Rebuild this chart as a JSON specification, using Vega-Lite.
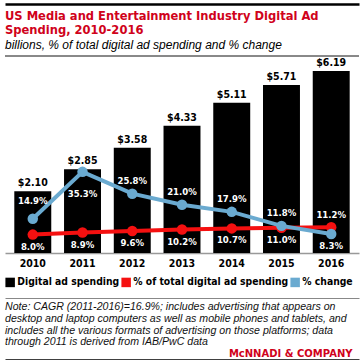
{
  "$schema": "https://vega.github.io/schema/vega-lite/v6.json",
  "padding": {"left": 4, "right": 2, "top": 4, "bottom": 1},
  "background": "white",
  "spacing": 4,
  "config": {
    "view": {"stroke": null},
    "font": "DejaVu Sans Condensed"
  },
  "datasets": {
    "d": [
      {"year": "2010", "spend": 2.10, "share": 0.080, "change": 0.149},
      {"year": "2011", "spend": 2.85, "share": 0.089, "change": 0.353},
      {"year": "2012", "spend": 3.58, "share": 0.096, "change": 0.258},
      {"year": "2013", "spend": 4.33, "share": 0.102, "change": 0.210},
      {"year": "2014", "spend": 5.11, "share": 0.107, "change": 0.179},
      {"year": "2015", "spend": 5.71, "share": 0.110, "change": 0.118},
      {"year": "2016", "spend": 6.19, "share": 0.112, "change": 0.083}
    ]
  },
  "resolve": {"scale": {"x": "independent", "color": "independent"}, "legend": {"color": "independent"}},
  "vconcat": [
    {
      "width": 354,
      "height": 1,
      "data": {"name": "d"},
      "mark": {"type": "rule", "opacity": 0},
      "encoding": {
        "x": {"field": "year", "type": "ordinal", "axis": {"orient": "top", "labels": false, "ticks": false, "domain": true, "domainColor": "#000", "domainWidth": 2.5, "grid": false, "title": null}}
      },
      "title": {
        "text": ["US Media and Entertainment Industry Digital Ad", "Spending, 2010-2016"],
        "subtitle": "billions, % of total digital ad spending and % change",
        "orient": "bottom",
        "anchor": "start",
        "offset": 5,
        "font": "DejaVu Sans Condensed",
        "fontSize": 12.8,
        "fontWeight": "bold",
        "color": "#d0021b",
        "lineHeight": 14,
        "subtitleFont": "Liberation Sans",
        "subtitleFontStyle": "italic",
        "subtitleFontSize": 12,
        "subtitleColor": "#000",
        "subtitlePadding": 3
      }
    },
    {
      "width": 354,
      "height": 197,
      "data": {"name": "d"},
      "resolve": {"scale": {"y": "independent"}, "axis": {"x": "independent"}},
      "layer": [
        {
          "mark": {"type": "bar"},
          "encoding": {
            "x": {"field": "year", "type": "ordinal", "scale": {"paddingInner": 0.257, "paddingOuter": 0.187},
              "axis": {"orient": "bottom", "title": null, "ticks": false, "grid": false, "domainColor": "#999", "domainWidth": 1.5, "labelFont": "DejaVu Sans Condensed", "labelFontWeight": "bold", "labelFontSize": 10.5, "labelColor": "#000", "labelPadding": 5, "labelAngle": 0}},
            "y": {"field": "spend", "type": "quantitative", "scale": {"domain": [0, 6.7]}, "axis": null},
            "color": {"datum": "Digital ad spending", "type": "nominal",
              "scale": {"domain": ["Digital ad spending", "% of total digital ad spending", "% change"], "range": ["#000000", "#f51010", "#6aaad0"]},
              "legend": {"orient": "bottom", "direction": "horizontal", "title": null, "symbolType": "square", "symbolSize": 90, "symbolStrokeWidth": 0, "labelFont": "DejaVu Sans Condensed", "labelFontWeight": "bold", "labelFontSize": 10.3, "labelColor": "#000", "columnPadding": 1, "labelOffset": 2, "offset": 8, "labelLimit": 0}}
          }
        },
        {
          "mark": {"type": "text", "baseline": "bottom", "dy": -3, "font": "DejaVu Sans Condensed", "fontWeight": "bold", "fontSize": 10.5, "color": "#000"},
          "encoding": {
            "x": {"field": "year", "type": "ordinal", "axis": null},
            "y": {"field": "spend", "type": "quantitative", "scale": {"domain": [0, 6.7]}, "axis": null},
            "text": {"field": "spend", "type": "quantitative", "format": "$.2f"}
          }
        },
        {
          "mark": {"type": "line", "strokeWidth": 4},
          "encoding": {
            "x": {"field": "year", "type": "ordinal", "axis": null},
            "y": {"field": "share", "type": "quantitative", "scale": {"domain": [0, 0.857]}, "axis": null},
            "color": {"datum": "% of total digital ad spending", "type": "nominal", "legend": null}
          }
        },
        {
          "mark": {"type": "circle", "size": 110, "opacity": 1},
          "encoding": {
            "x": {"field": "year", "type": "ordinal", "axis": null},
            "y": {"field": "share", "type": "quantitative", "scale": {"domain": [0, 0.857]}, "axis": null},
            "color": {"datum": "% of total digital ad spending", "type": "nominal", "legend": null}
          }
        },
        {
          "mark": {"type": "line", "strokeWidth": 4},
          "encoding": {
            "x": {"field": "year", "type": "ordinal", "axis": null},
            "y": {"field": "change", "type": "quantitative", "scale": {"domain": [0, 0.857]}, "axis": null},
            "color": {"datum": "% change", "type": "nominal", "legend": null}
          }
        },
        {
          "mark": {"type": "circle", "size": 110, "opacity": 1},
          "encoding": {
            "x": {"field": "year", "type": "ordinal", "axis": null},
            "y": {"field": "change", "type": "quantitative", "scale": {"domain": [0, 0.857]}, "axis": null},
            "color": {"datum": "% change", "type": "nominal", "legend": null}
          }
        },
        {
          "transform": [{"filter": "datum.year != '2016'"}],
          "mark": {"type": "text", "baseline": "middle", "dy": 12, "font": "DejaVu Sans Condensed", "fontWeight": "bold", "fontSize": 9.5, "color": "#fff"},
          "encoding": {
            "x": {"field": "year", "type": "ordinal", "axis": null},
            "y": {"field": "share", "type": "quantitative", "scale": {"domain": [0, 0.857]}, "axis": null},
            "text": {"field": "share", "type": "quantitative", "format": ".1%"}
          }
        },
        {
          "transform": [{"filter": "datum.year == '2016'"}],
          "mark": {"type": "text", "baseline": "middle", "dy": -12, "font": "DejaVu Sans Condensed", "fontWeight": "bold", "fontSize": 9.5, "color": "#fff"},
          "encoding": {
            "x": {"field": "year", "type": "ordinal", "axis": null},
            "y": {"field": "share", "type": "quantitative", "scale": {"domain": [0, 0.857]}, "axis": null},
            "text": {"field": "share", "type": "quantitative", "format": ".1%"}
          }
        },
        {
          "transform": [{"filter": "datum.year == '2010'"}],
          "mark": {"type": "text", "baseline": "middle", "dy": -18, "font": "DejaVu Sans Condensed", "fontWeight": "bold", "fontSize": 9.5, "color": "#fff"},
          "encoding": {
            "x": {"field": "year", "type": "ordinal", "axis": null},
            "y": {"field": "change", "type": "quantitative", "scale": {"domain": [0, 0.857]}, "axis": null},
            "text": {"field": "change", "type": "quantitative", "format": ".1%"}
          }
        },
        {
          "transform": [{"filter": "datum.year != '2010' && datum.year != '2011' && datum.year != '2016'"}],
          "mark": {"type": "text", "baseline": "middle", "dy": -13, "font": "DejaVu Sans Condensed", "fontWeight": "bold", "fontSize": 9.5, "color": "#fff"},
          "encoding": {
            "x": {"field": "year", "type": "ordinal", "axis": null},
            "y": {"field": "change", "type": "quantitative", "scale": {"domain": [0, 0.857]}, "axis": null},
            "text": {"field": "change", "type": "quantitative", "format": ".1%"}
          }
        },
        {
          "transform": [{"filter": "datum.year == '2011'"}],
          "mark": {"type": "text", "baseline": "middle", "dy": 22, "font": "DejaVu Sans Condensed", "fontWeight": "bold", "fontSize": 9.5, "color": "#fff"},
          "encoding": {
            "x": {"field": "year", "type": "ordinal", "axis": null},
            "y": {"field": "change", "type": "quantitative", "scale": {"domain": [0, 0.857]}, "axis": null},
            "text": {"field": "change", "type": "quantitative", "format": ".1%"}
          }
        },
        {
          "transform": [{"filter": "datum.year == '2016'"}],
          "mark": {"type": "text", "baseline": "middle", "dy": 12, "font": "DejaVu Sans Condensed", "fontWeight": "bold", "fontSize": 9.5, "color": "#fff"},
          "encoding": {
            "x": {"field": "year", "type": "ordinal", "axis": null},
            "y": {"field": "change", "type": "quantitative", "scale": {"domain": [0, 0.857]}, "axis": null},
            "text": {"field": "change", "type": "quantitative", "format": ".1%"}
          }
        },
        {
          "mark": {"type": "rule", "color": "#888", "strokeWidth": 1},
          "encoding": {
            "y": {"datum": 0.857, "type": "quantitative", "scale": {"domain": [0, 0.857]}, "axis": null}
          }
        }
      ]
    },
    {
      "width": 354,
      "height": 6,
      "data": {"name": "d"},
      "mark": {"type": "rule", "opacity": 0},
      "encoding": {
        "x": {"field": "year", "type": "ordinal", "axis": {"orient": "bottom", "labels": false, "ticks": false, "domain": true, "domainColor": "#888", "domainWidth": 1, "grid": false, "title": null}}
      }
    },
    {
      "width": 354,
      "height": 1,
      "data": {"name": "d"},
      "mark": {"type": "rule", "opacity": 0},
      "encoding": {
        "x": {"field": "year", "type": "ordinal", "axis": {"orient": "top", "labels": false, "ticks": false, "domain": true, "domainColor": "#000", "domainWidth": 2.5, "grid": false, "title": "McNNADI & COMPANY", "titleX": 347, "titleAlign": "right", "titleColor": "#d0021b", "titleFont": "DejaVu Sans", "titleFontWeight": "bold", "titleFontSize": 10, "titlePadding": 2}}
      },
      "title": {
        "text": [
          "Note: CAGR (2011-2016)=16.9%; includes advertising that appears on",
          "desktop and laptop computers as well as mobile phones and tablets, and",
          "includes all the various formats of advertising on those platforms; data",
          "through 2011 is derived from IAB/PwC data"
        ],
        "orient": "top",
        "anchor": "start",
        "offset": 0,
        "font": "Liberation Sans",
        "fontSize": 10.6,
        "fontStyle": "italic",
        "fontWeight": "normal",
        "color": "#111",
        "lineHeight": 11.7
      }
    }
  ]
}
